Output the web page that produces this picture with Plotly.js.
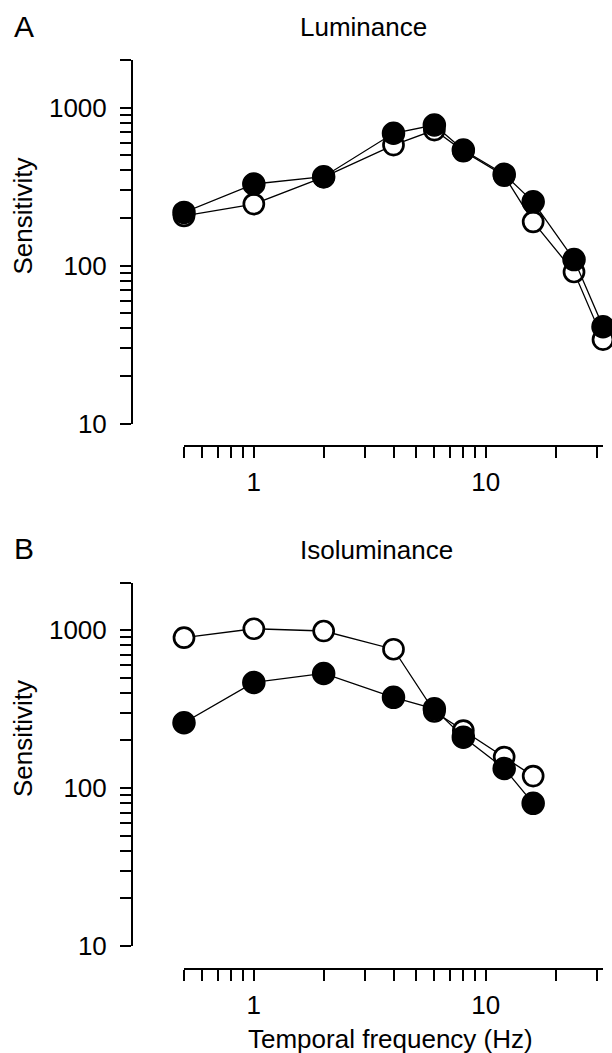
<!DOCTYPE html>
<html>
<head>
<meta charset="utf-8">
<script src="https://cdn.plot.ly/plotly-3.0.1.min.js"></script>
<style>
  html, body { margin: 0; padding: 0; background: #fff; }
  #chart { width: 612px; height: 1053px; }
</style>
</head>
<body>
<div id="chart"></div>
<script>
// Temporal contrast sensitivity, luminance (A) and isoluminance (B)
const freqLum = [0.5, 1, 2, 4, 6, 8, 12, 16, 24, 32];
const lumOpen = [206, 245, 363, 579, 720, 530, 370, 189, 91, 34];
const lumFilled = [217, 328, 365, 687, 775, 538, 378, 253, 109, 41];

const freqIso = [0.5, 1, 2, 4, 6, 8, 12, 16];
const isoOpen = [895, 1019, 986, 756, 305, 231, 157, 119];
const isoFilled = [259, 466, 531, 375, 317, 210, 133, 80];

// Axis ticks: every 1-9 step of each decade, labels only on the decades
const sensTicks = [10, 20, 30, 40, 50, 60, 70, 80, 90,
                   100, 200, 300, 400, 500, 600, 700, 800, 900,
                   1000, 2000];
const sensLabels = { 10: '10', 100: '100', 1000: '1000' };
const freqTicks = [0.5, 0.6, 0.7, 0.8, 0.9, 1, 2, 3, 4, 5, 6, 7, 8, 9, 10, 20, 30];
const freqLabels = { 1: '1', 10: '10' };

const W = 612, H = 1053;
const fx = p => p / W;          // pixel column -> paper x
const fy = p => 1 - p / H;      // pixel row -> paper y

const FONT = 'Liberation Sans, Arial, Helvetica, sans-serif';

function openTrace(x, y, xa, ya) {
  return {
    x: x, y: y, xaxis: xa, yaxis: ya,
    type: 'scatter', mode: 'lines+markers', cliponaxis: false,
    line: { color: '#000', width: 1.3 },
    marker: { symbol: 'circle', size: 20, color: '#fff',
              line: { color: '#000', width: 2.7 } },
    showlegend: false, hoverinfo: 'x+y'
  };
}
function filledTrace(x, y, xa, ya) {
  return {
    x: x, y: y, xaxis: xa, yaxis: ya,
    type: 'scatter', mode: 'lines+markers', cliponaxis: false,
    line: { color: '#000', width: 1.3 },
    marker: { symbol: 'circle', size: 22, color: '#000',
              line: { color: '#000', width: 1.5 } },
    showlegend: false, hoverinfo: 'x+y'
  };
}

const data = [
  openTrace(freqLum, lumOpen, 'x', 'y'),
  filledTrace(freqLum, lumFilled, 'x', 'y'),
  openTrace(freqIso, isoOpen, 'x2', 'y2'),
  filledTrace(freqIso, isoFilled, 'x2', 'y2')
];

function xAxis(posRow) {
  return {
    type: 'log',
    range: [Math.log10(0.5), Math.log10(32)],
    domain: [fx(184), fx(603)],
    anchor: 'free', position: fy(posRow),
    showline: true, linecolor: '#000', linewidth: 2,
    ticks: 'outside', ticklen: 11, tickwidth: 2, tickcolor: '#000',
    tickmode: 'array', tickvals: freqTicks,
    ticktext: freqTicks.map(v => freqLabels[v] || ''),
    ticklabelstandoff: 2,
    tickfont: { family: FONT, size: 26, color: '#000' },
    showgrid: false, zeroline: false, fixedrange: true
  };
}
function yAxis(topRow, bottomRow) {
  return {
    type: 'log',
    range: [1, Math.log10(2000)],
    domain: [fy(bottomRow), fy(topRow)],
    anchor: 'free', position: fx(132),
    showline: true, linecolor: '#000', linewidth: 2,
    ticks: 'outside', ticklen: 11, tickwidth: 2, tickcolor: '#000',
    tickmode: 'array', tickvals: sensTicks,
    ticktext: sensTicks.map(v => sensLabels[v] || ''),
    ticklabelstandoff: 8,
    tickfont: { family: FONT, size: 26, color: '#000' },
    showgrid: false, zeroline: false, fixedrange: true
  };
}

function label(text, px, py, opts) {
  return Object.assign({
    text: text, xref: 'paper', yref: 'paper',
    x: fx(px), y: fy(py), xanchor: 'center', yanchor: 'middle',
    showarrow: false, font: { family: FONT, size: 26, color: '#000' }
  }, opts || {});
}

const SHIFT = 522.5; // vertical offset between the two panels

const layout = {
  width: W, height: H,
  margin: { l: 0, r: 0, t: 0, b: 0 },
  paper_bgcolor: '#fff', plot_bgcolor: '#fff',
  showlegend: false,
  xaxis: xAxis(446),
  yaxis: yAxis(60, 423.5),
  xaxis2: xAxis(446 + SHIFT),
  yaxis2: yAxis(60 + SHIFT, 423.5 + SHIFT),
  annotations: [
    label('A', 23.5, 26, { font: { family: FONT, size: 30, color: '#000' } }),
    label('Luminance', 298, 27, { xanchor: 'left' }),
    label('Sensitivity', 22.5, 216, { textangle: -90 }),
    label('B', 23.5, 26 + SHIFT, { font: { family: FONT, size: 30, color: '#000' } }),
    label('Isoluminance', 298, 27 + SHIFT, { xanchor: 'left' }),
    label('Sensitivity', 22.5, 216 + SHIFT, { textangle: -90 }),
    label('Temporal frequency (Hz)', 391, 1039)
  ]
};

Plotly.newPlot('chart', data, layout, { staticPlot: true, displayModeBar: false });
</script>
</body>
</html>
